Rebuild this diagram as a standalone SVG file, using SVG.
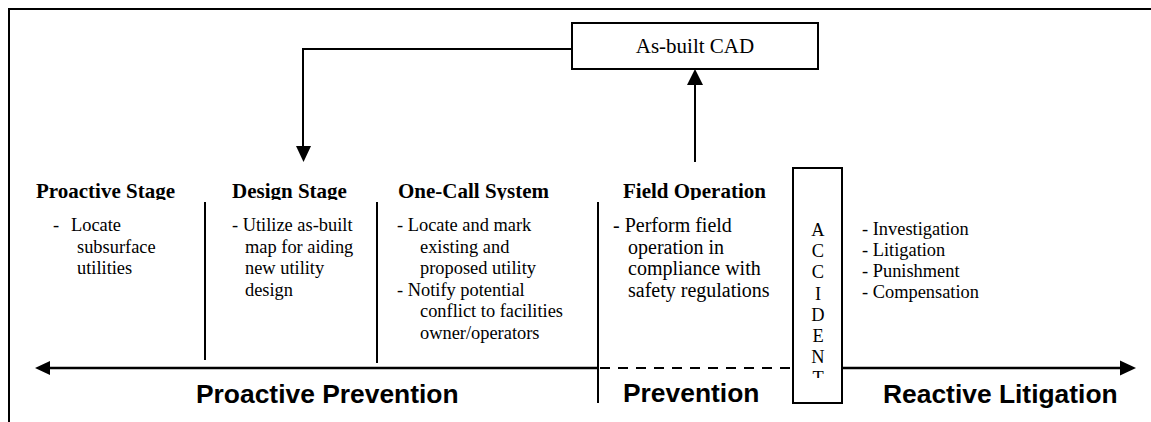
<svg xmlns="http://www.w3.org/2000/svg" width="1151" height="422" viewBox="0 0 1151 422">
<style>
.frame{stroke:#000;stroke-width:2;fill:none}
.ln{stroke:#000;stroke-width:2;fill:none}
.axis{stroke:#000;stroke-width:2.6;fill:none}
.head{font-family:"Liberation Serif","Times New Roman",serif;font-weight:bold;font-size:21px;fill:#000}
.body{font-family:"Liberation Serif","Times New Roman",serif;font-size:18.4px;fill:#000}
.field{font-size:20px}
.big{font-family:"Liberation Sans",Arial,sans-serif;font-weight:bold;font-size:26.4px;fill:#000}
</style>
<defs>
<clipPath id="headClip"><rect x="0" y="150" width="1151" height="50"/></clipPath>
<clipPath id="accClip"><rect x="794" y="169" width="47" height="209"/></clipPath>
</defs>
<rect width="1151" height="422" fill="#fff"/>
<g id="frame">
<path class="frame" d="M9,422 V9 H1151"/>
</g>
<g id="connectors">
<path class="ln" d="M572,49 H303 V148"/>
<polygon points="296,146 311,146 303.5,162" fill="#000"/>
<path class="ln" d="M695,162 V84"/>
<polygon points="687,85 703,85 695,69" fill="#000"/>
<path class="axis" d="M48,368 H598"/>
<path d="M600,368 H793" stroke="#000" stroke-width="2" stroke-dasharray="10,8"/>
<path class="axis" d="M842,368 H1122"/>
<polygon points="35,368 50,361 50,375" fill="#000"/>
<polygon points="1136,368 1120,360.5 1120,375.5" fill="#000"/>
<path class="ln" d="M205,202 V360"/>
<path class="ln" d="M377,202 V363"/>
<path class="ln" d="M598,202 V403"/>
</g>
<g id="asbuilt">
<rect x="572" y="23" width="246" height="46" fill="#fff" stroke="#000" stroke-width="2"/>
<text x="695" y="53" text-anchor="middle" class="body" style="font-size:21px">As-built CAD</text>
</g>
<g id="proactive-stage">
<text class="head" x="36" y="198" clip-path="url(#headClip)">Proactive Stage</text>
<text class="body"><tspan x="53" y="231">-</tspan><tspan x="71" y="231">Locate</tspan><tspan x="77" y="252.5">subsurface</tspan><tspan x="77" y="274">utilities</tspan></text>
</g>
<g id="design-stage">
<text class="head" x="232" y="198" clip-path="url(#headClip)">Design Stage</text>
<text class="body"><tspan x="232" y="231">- Utilize as-built</tspan><tspan x="245" y="252.5">map for aiding</tspan><tspan x="245" y="274">new utility</tspan><tspan x="245" y="295.5">design</tspan></text>
</g>
<g id="one-call">
<text class="head" x="398" y="198" clip-path="url(#headClip)">One-Call System</text>
<text class="body"><tspan x="397" y="231">- Locate and mark</tspan><tspan x="420" y="252.5">existing and</tspan><tspan x="420" y="274">proposed utility</tspan><tspan x="397" y="295.5">- Notify potential</tspan><tspan x="420" y="317">conflict to facilities</tspan><tspan x="420" y="338.5">owner/operators</tspan></text>
</g>
<g id="field-operation">
<text class="head" x="623" y="198" clip-path="url(#headClip)">Field Operation</text>
<text class="body field"><tspan x="613" y="232">- Perform field</tspan><tspan x="628" y="253.5">operation in</tspan><tspan x="628" y="275">compliance with</tspan><tspan x="628" y="296.5">safety regulations</tspan></text>
</g>
<g id="accident">
<rect x="793" y="168" width="49" height="235" fill="#fff" stroke="#000" stroke-width="2"/>
<text class="body" text-anchor="middle" clip-path="url(#accClip)"><tspan x="818" y="236">A</tspan><tspan x="818" y="257.2">C</tspan><tspan x="818" y="278.4">C</tspan><tspan x="818" y="299.6">I</tspan><tspan x="818" y="320.8">D</tspan><tspan x="818" y="342">E</tspan><tspan x="818" y="363.2">N</tspan><tspan x="818" y="384.4">T</tspan></text>
</g>
<g id="reactive-list">
<text class="body"><tspan x="862" y="235">- Investigation</tspan><tspan x="862" y="256">- Litigation</tspan><tspan x="862" y="277">- Punishment</tspan><tspan x="862" y="298">- Compensation</tspan></text>
</g>
<g id="labels">
<text class="big" x="196" y="403">Proactive Prevention</text>
<text class="big" x="623" y="402">Prevention</text>
<text class="big" x="883" y="403">Reactive Litigation</text>
</g>
</svg>
